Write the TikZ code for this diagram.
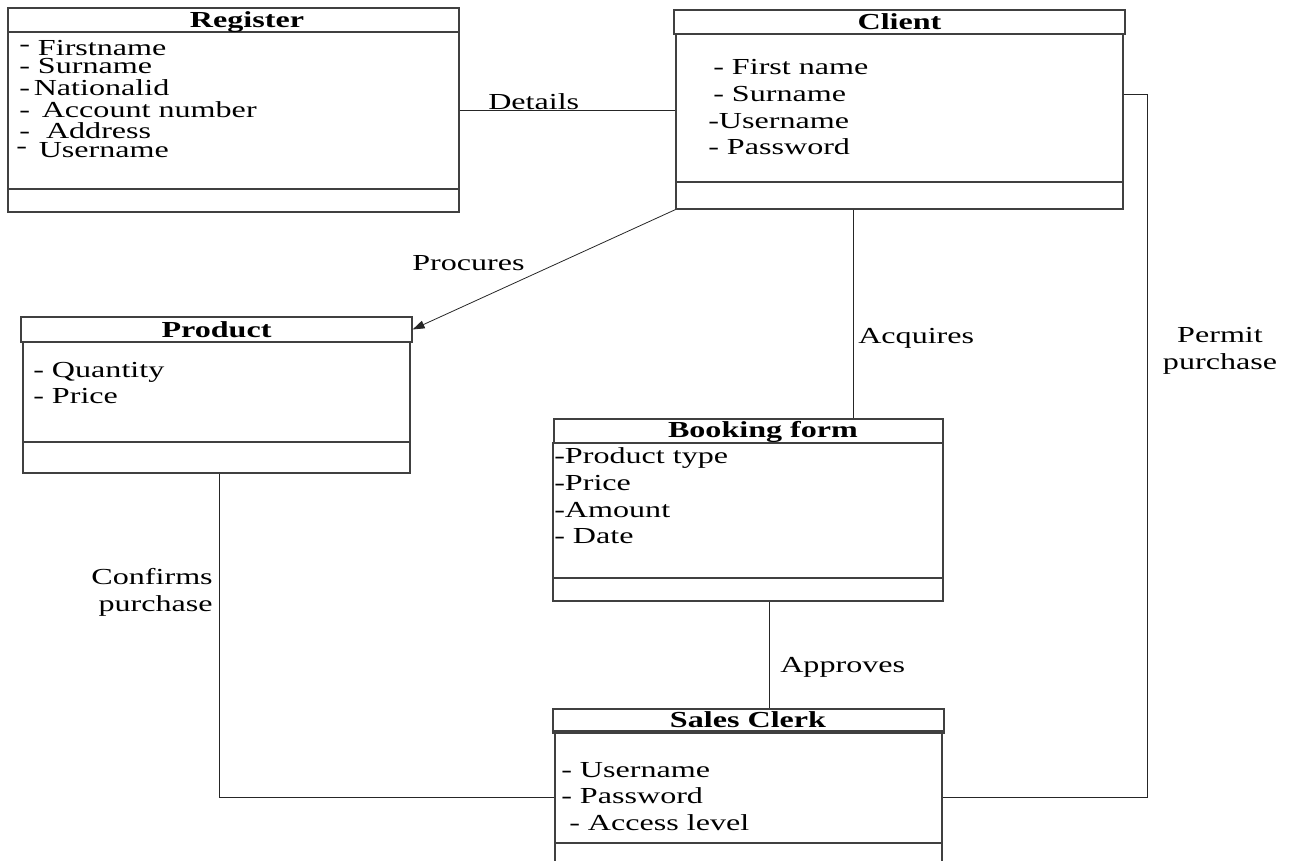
\documentclass[tikz,border=0pt]{standalone}
\usepackage{fontspec}
\setmainfont[FakeStretch=1.4]{Liberation Serif}
\usetikzlibrary{fit,arrows.meta}

\tikzset{
  frame/.style={draw=black!75, line width=0.9pt, inner sep=0pt},
  title/.style={font=\fontsize{17.2}{20}\selectfont\bfseries, anchor=base, inner sep=0pt},
  attr/.style={font=\fontsize{17.2}{20}\selectfont, anchor=base west, inner sep=0pt},
  lbl/.style={font=\fontsize{17.2}{20}\selectfont, anchor=base west, inner sep=0pt},
  link/.style={draw=black!85, line width=0.6pt},
}
\newcommand\hidash{\raisebox{0.35ex}{-}}

\begin{document}
\begin{tikzpicture}[x=0.75pt,y=-0.75pt]
\useasboundingbox (0,0) rectangle (1290,861);

% Register
\node[frame, fit={(8,8)(459,32)}] (reg-h) {};
\node[frame, fit={(8,32)(459,212)}] (reg) {};
\draw[frame] (reg.west |- 0,189) -- (reg.east |- 0,189);
\node[title] (reg-t) at (247,27) {Register};
\node[attr] (reg-a1) at (19,55) {\hidash\ Firstname};
\node[attr] (reg-a2) at (19,73.5) {- Surname};
\node[attr] (reg-a3) at (19,95) {-\,Nationalid};
\node[attr] (reg-a4) at (19,117) {- \,Account number};
\node[attr] (reg-a5) at (19,138) {- \ Address};
\node[attr] (reg-a6) at (16,157) {\hidash\ \,Username};

% Client
\node[frame, fit={(674,10)(1125,34)}] (cli-h) {};
\node[frame, fit={(676,34)(1123,209)}] (cli) {};
\draw[frame] (cli.west |- 0,182) -- (cli.east |- 0,182);
\node[title] (cli-t) at (899.5,29) {Client};
\node[attr] (cli-a1) at (713,74) {- First name};
\node[attr] (cli-a2) at (713,101) {- Surname};
\node[attr] (cli-a3) at (708,128) {-Username};
\node[attr] (cli-a4) at (708,154) {- Password};

% Product
\node[frame, fit={(21,317)(412,342)}] (prod-h) {};
\node[frame, fit={(23,342)(410,473)}] (prod) {};
\draw[frame] (prod.west |- 0,442) -- (prod.east |- 0,442);
\node[title] (prod-t) at (216.5,337) {Product};
\node[attr] (prod-a1) at (33,377) {- Quantity};
\node[attr] (prod-a2) at (33,403) {- Price};

% Booking form
\node[frame, fit={(554,419)(943,443)}] (bk-h) {};
\node[frame, fit={(553,443)(943,601)}] (bk) {};
\draw[frame] (bk.west |- 0,578) -- (bk.east |- 0,578);
\node[title] (bk-t) at (763,437) {Booking form};
\node[attr] (bk-a1) at (554,463) {-Product type};
\node[attr] (bk-a2) at (554,490) {-Price};
\node[attr] (bk-a3) at (554,517) {-Amount};
\node[attr] (bk-a4) at (554,543) {- Date};

% Sales Clerk
\node[frame, fit={(553,709)(944,733)}] (clk-h) {};
\node[frame, fit={(555,731)(942,880)}] (clk) {};
\draw[frame] (clk.west |- 0,843) -- (clk.east |- 0,843);
\node[title] (clk-t) at (748,727) {Sales Clerk};
\node[attr] (clk-a1) at (561,777) {- Username};
\node[attr] (clk-a2) at (561,803) {- Password};
\node[attr] (clk-a3) at (569,830) {- Access level};

% Connector routing points
\coordinate (dt) at (0,110);
\coordinate (pr1) at (1147,94);
\coordinate (pr2) at (1147,797);
\coordinate (ac) at (853,0);
\coordinate (ap) at (769,0);
\coordinate (cf) at (219,797);

% Associations
\draw[link] (reg.east |- dt) -- (cli.west |- dt);
\node[lbl] (l-det) at (488,109) {Details};

\draw[link] (cli.east |- pr1) -- (pr1) -- (pr2) -- (clk.east |- pr2);
\node[font=\fontsize{17.2}{20}\selectfont, align=center, inner sep=0pt, anchor=base] (l-per) at (1220,369) {Permit\\purchase};

\draw[link] (cli.south -| ac) -- (bk-h.north -| ac);
\node[lbl] (l-acq) at (858,343) {Acquires};

\draw[link, -{Triangle[length=9pt,width=6pt]}] (cli.south west) -- (prod-h.east);
\node[lbl] (l-pro) at (412,270) {Procures};

\draw[link] (bk.south -| ap) -- (clk-h.north -| ap);
\node[lbl] (l-app) at (780,672) {Approves};

\draw[link] (prod.south -| cf) -- (cf) -- (clk.west |- cf);
\node[font=\fontsize{17.2}{20}\selectfont, align=right, inner sep=0pt, anchor=base east] (l-con) at (213,611) {Confirms\\purchase};
\end{tikzpicture}
\end{document}
